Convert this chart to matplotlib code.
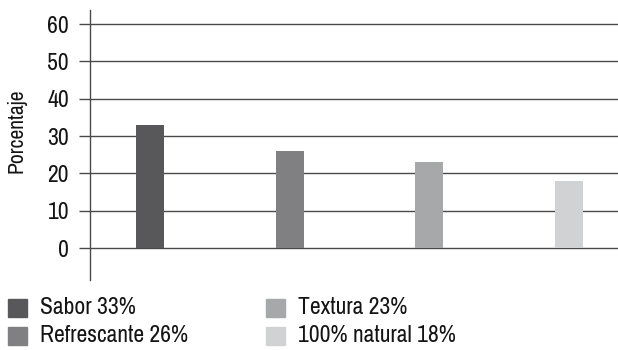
import matplotlib
matplotlib.use("Agg")
import matplotlib.pyplot as plt
from matplotlib.patches import Rectangle
from matplotlib import font_manager

categories = ["Sabor", "Refrescante", "Textura", "100% natural"]
values = [33, 26, 23, 18]
colors = ["#58585a", "#808083", "#a7a8aa", "#d1d2d4"]
yticks = [0, 10, 20, 30, 40, 50, 60]
legend_labels = ["Sabor 33%", "Refrescante 26%", "Textura 23%", "100% natural 18%"]

# prefer a condensed sans face
fonts = font_manager.fontManager.ttflist
narrow = [f.name for f in fonts if "Narrow" in f.name or "Condensed" in f.name]
cond_stretch = [f for f in fonts if f.name == "DejaVu Sans" and f.stretch in ("condensed", "semi-condensed")]
stretch = "normal"
if narrow:
    family = sorted(narrow)[0]
elif cond_stretch:
    family = "DejaVu Sans"
    stretch = "condensed"
else:
    family = "Liberation Sans"
plt.rcParams["font.family"] = [family, "DejaVu Sans"]
plt.rcParams["font.stretch"] = stretch

W, H = 618, 350
fig = plt.figure(figsize=(W / 100, H / 100), dpi=100)
text_color = "#141414"

# axes spans the plotting region; left spine runs from y=10px to y=280px
ax = fig.add_axes([90 / W, (H - 280) / H, (W - 90) / W, 270 / H])
ax.set_ylim(-8.57, 63.75)
ax.set_xlim(-0.43, 3.35)

grid_color = "#4a4a4a"
for t in yticks:
    ax.axhline(t, color=grid_color, lw=1.0, zorder=1)

x = list(range(len(categories)))
ax.bar(x, values, width=0.2, color=colors, zorder=2)

for s in ["top", "right", "bottom"]:
    ax.spines[s].set_visible(False)
ax.spines["left"].set_color(grid_color)
ax.spines["left"].set_linewidth(1.0)
ax.set_xticks([])
ax.set_yticks(yticks)
ax.set_yticklabels([str(t) for t in yticks])
ax.tick_params(axis="y", length=7.9, width=1.0, color=grid_color,
               labelsize=17, pad=7.2, labelcolor=text_color)

fig.text(16 / W, 1 - 131 / H, "Porcentaje", rotation=90, ha="center",
         va="center", fontsize=15.5, color=text_color)

# legend: two columns of square swatches
swatches = [(8, 299), (8, 327), (266, 299), (266, 327)]
for i, (px, py) in enumerate(swatches):
    fig.patches.append(Rectangle((px / W, 1 - (py + 18) / H), 19 / W, 18 / H,
                                 transform=fig.transFigure, color=colors[i]))
    fig.text((px + 32) / W, 1 - (py + 9) / H, legend_labels[i], ha="left",
             va="center", fontsize=17, color=text_color)

fig.savefig("out.png", dpi=100)
